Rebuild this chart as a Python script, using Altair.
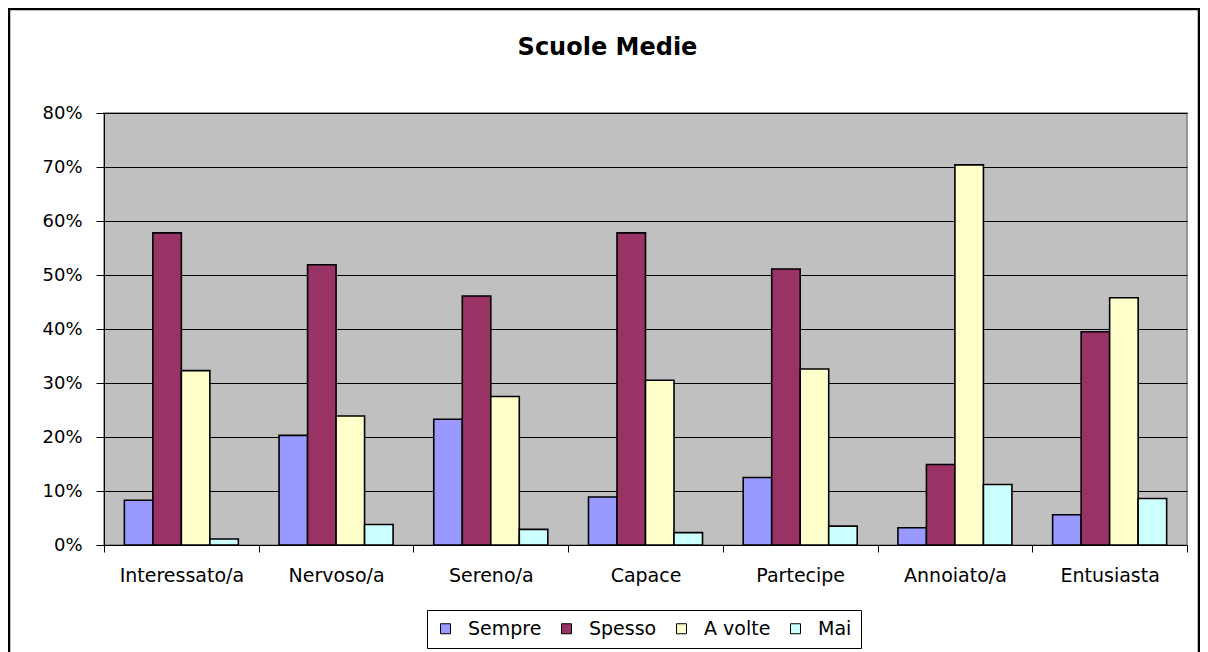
import altair as alt
import pandas as pd

categories = ["Interessato/a", "Nervoso/a", "Sereno/a", "Capace", "Partecipe", "Annoiato/a", "Entusiasta"]
series = ["Sempre", "Spesso", "A volte", "Mai"]
colors = ["#9999FF", "#993366", "#FFFFCC", "#CCFFFF"]

sempre = [8.3, 20.3, 23.3, 8.9, 12.5, 3.2, 5.6]
spesso = [57.8, 51.9, 46.1, 57.8, 51.1, 14.9, 39.5]
a_volte = [32.3, 23.9, 27.5, 30.5, 32.6, 70.4, 45.8]
mai = [1.1, 3.8, 2.9, 2.3, 3.5, 11.2, 8.6]

y_ticks = [0, 10, 20, 30, 40, 50, 60, 70, 80]

rows = []
for i, cat in enumerate(categories):
    for s, vals in zip(series, [sempre, spesso, a_volte, mai]):
        rows.append({"categoria": cat, "serie": s, "valore": vals[i]})
df = pd.DataFrame(rows)

FONT = "DejaVu Sans"

bars = alt.Chart(df).mark_bar(stroke="black", strokeWidth=1.6, opacity=1).encode(
    x=alt.X(
        "categoria:N",
        sort=categories,
        scale=alt.Scale(paddingInner=0, paddingOuter=0),
        axis=alt.Axis(
            title=None, labelAngle=0, tickBand="extent", labelFontSize=19,
            labelColor="black", tickColor="black", domainColor="black",
            tickSize=7, labelPadding=14, grid=False, labelFont=FONT,
        ),
    ),
    xOffset=alt.XOffset("serie:N", sort=series, scale=alt.Scale(paddingOuter=0.714, paddingInner=0)),
    y=alt.Y(
        "valore:Q",
        scale=alt.Scale(domain=[0, 80], nice=False),
        axis=alt.Axis(
            title=None, values=y_ticks, labelExpr="datum.value + '%'",
            grid=True, gridColor="black", gridWidth=1, tickSize=8, labelPadding=14,
            labelFontSize=18, labelColor="black", domainColor="black",
            tickColor="black", labelFont=FONT,
        ),
    ),
    color=alt.Color(
        "serie:N",
        sort=series,
        scale=alt.Scale(domain=series, range=colors),
        legend=alt.Legend(
            title=None, orient="none", legendX=323, legendY=497, direction="horizontal",
            strokeColor="black", fillColor="white", padding=9,
            symbolType="square", symbolSize=100, symbolStrokeColor="black",
            symbolStrokeWidth=1, symbolOpacity=1, labelFontSize=19,
            labelFont=FONT, labelColor="black", columnPadding=15, labelOffset=13,
        ),
    ),
)

frame = alt.Chart(alt.Data(values=[{"k": 1}])).mark_rect(
    fillOpacity=0, stroke="black", strokeWidth=2.5
).encode(
    x=alt.value(-95), x2=alt.value(1095), y=alt.value(-104), y2=alt.value(700)
)

chart = alt.layer(bars, frame).properties(
    width=1083,
    height=432,
    autosize=alt.AutoSizeParams(type="none"),
    padding={"left": 96, "top": 105, "right": 13, "bottom": 107},
    background="white",
    title=alt.TitleParams(
        "Scuole Medie", fontSize=24, fontWeight="bold", font=FONT, color="black",
        anchor="middle", frame="group", dx=-38, offset=-71, baseline="alphabetic",
    ),
).configure_view(
    fill="#C0C0C0", stroke="#808080", strokeWidth=1.5
)

chart.save("out.html", embed_options={"renderer": "svg", "actions": False})
